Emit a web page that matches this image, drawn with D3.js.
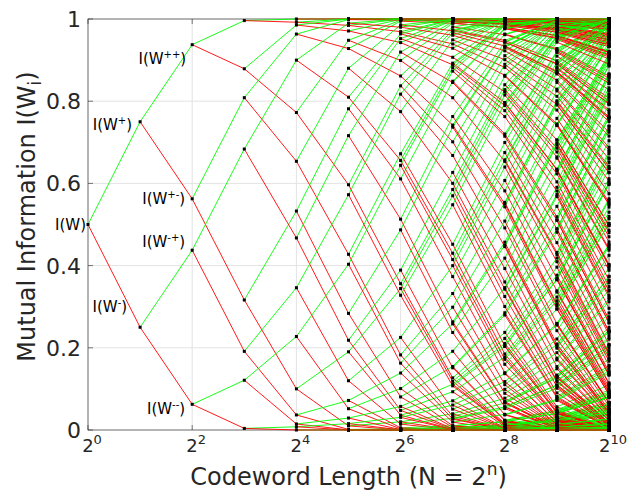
<!DOCTYPE html>
<html>
<head>
<meta charset="utf-8">
<script src="https://cdn.jsdelivr.net/npm/d3@7"></script>
<style>
  body { margin: 0; background: #fff; }
  svg { font-family: "DejaVu Sans", sans-serif; }
</style>
</head>
<body>
<svg id="chart" width="630" height="493"></svg>
<script>
// polarization of a BEC with I(W) = 0.5, levels n = 0..10
const startCapacity = 0.5;
const levelCount = 10;
const xTickExps = [0, 2, 4, 6, 8, 10];
const yTicks = [0, 0.2, 0.4, 0.6, 0.8, 1];
const yTickLabels = ["0", "0.2", "0.4", "0.6", "0.8", "1"];

// node labels: level, index at that level, superscript
const nodeLabels = [
  { n: 0, i: 0, sup: "", dx: -2, dy: 5 },
  { n: 1, i: 0, sup: "+", dx: -8, dy: 8 },
  { n: 1, i: 1, sup: "-", dx: -13, dy: -15 },
  { n: 2, i: 0, sup: "++", dx: -6, dy: 19 },
  { n: 2, i: 1, sup: "+-", dx: -7, dy: 5 },
  { n: 2, i: 2, sup: "-+", dx: -7, dy: -3 },
  { n: 2, i: 3, sup: "--", dx: -7, dy: 10 }
];

// each channel splits into the better W+ (2I - I^2) and worse W- (I^2)
let levels = [[startCapacity]];
for (let n = 1; n <= levelCount; n++) {
  let prev = levels[n - 1];
  let cur = [];
  prev.forEach(v => { cur.push(2 * v - v * v); cur.push(v * v); });
  levels.push(cur);
}

let mLeft = 88, mRight = 609, mTop = 19, mBottom = 430;

let svg = d3.select('#chart');

let x = d3.scaleLinear().domain([0, levelCount]).range([mLeft, mRight]);
let y = d3.scaleLinear().domain([0, 1]).range([mBottom, mTop]);

// grid
svg.append('g')
  .selectAll('line')
  .data(xTickExps)
  .enter().append('line')
  .attr('x1', d => x(d)).attr('x2', d => x(d))
  .attr('y1', mTop).attr('y2', mBottom)
  .attr('stroke', '#e3e3e3').attr('stroke-width', 1);
svg.append('g')
  .selectAll('line')
  .data(yTicks)
  .enter().append('line')
  .attr('x1', mLeft).attr('x2', mRight)
  .attr('y1', d => y(d)).attr('y2', d => y(d))
  .attr('stroke', '#e3e3e3').attr('stroke-width', 1);

// axis box
svg.append('rect')
  .attr('x', mLeft).attr('y', mTop)
  .attr('width', mRight - mLeft).attr('height', mBottom - mTop)
  .attr('fill', 'none').attr('stroke', '#262626').attr('stroke-width', 0.6);

// ticks inward
let ticksG = svg.append('g').attr('stroke', '#262626').attr('stroke-width', 0.6);
xTickExps.forEach(e => {
  ticksG.append('line').attr('x1', x(e)).attr('x2', x(e)).attr('y1', mBottom).attr('y2', mBottom - 5);
  ticksG.append('line').attr('x1', x(e)).attr('x2', x(e)).attr('y1', mTop).attr('y2', mTop + 5);
});
yTicks.forEach(t => {
  ticksG.append('line').attr('x1', mLeft).attr('x2', mLeft + 5).attr('y1', y(t)).attr('y2', y(t));
  ticksG.append('line').attr('x1', mRight).attr('x2', mRight - 5).attr('y1', y(t)).attr('y2', y(t));
});

// segments
let segs = [];
for (let n = 0; n < levelCount; n++) {
  levels[n].forEach((v, i) => {
    segs.push({ n: n, v0: v, v1: levels[n + 1][2 * i], c: '#00ff00' });
    segs.push({ n: n, v0: v, v1: levels[n + 1][2 * i + 1], c: '#ff0000' });
  });
}
svg.append('g')
  .selectAll('line')
  .data(segs)
  .enter().append('line')
  .attr('x1', d => x(d.n)).attr('y1', d => y(d.v0))
  .attr('x2', d => x(d.n + 1)).attr('y2', d => y(d.v1))
  .attr('stroke', d => d.c)
  .attr('stroke-width', 0.9);

// points
let pts = [];
levels.forEach((arr, n) => arr.forEach(v => pts.push({ n: n, v: v })));
svg.append('g')
  .selectAll('rect')
  .data(pts)
  .enter().append('rect')
  .attr('x', d => x(d.n) - 1.5).attr('y', d => y(d.v) - 1.5)
  .attr('width', 3).attr('height', 3)
  .attr('fill', '#000');

// node labels
nodeLabels.forEach(l => {
  let t = svg.append('text')
    .attr('x', x(l.n) + l.dx)
    .attr('y', y(levels[l.n][l.i]) + l.dy)
    .attr('text-anchor', 'end')
    .attr('font-size', 15)
    .attr('fill', '#000');
  t.append('tspan').text('I(W');
  if (l.sup) t.append('tspan').attr('dy', -6).attr('font-size', 10).text(l.sup);
  t.append('tspan').attr('dy', l.sup ? 6 : 0).text(')');
});

// x tick labels
xTickExps.forEach(e => {
  let t = svg.append('text')
    .attr('x', x(e) + 4).attr('y', 452)
    .attr('text-anchor', 'middle')
    .attr('font-size', 18)
    .attr('fill', '#262626');
  t.append('tspan').text('2');
  t.append('tspan').attr('dy', -8).attr('font-size', 13).text(e);
});

// y tick labels
yTicks.forEach((t, k) => {
  svg.append('text')
    .attr('x', mLeft - 7).attr('y', y(t) + 8)
    .attr('text-anchor', 'end')
    .attr('font-size', 22)
    .attr('fill', '#262626')
    .text(yTickLabels[k]);
});

// axis labels
let xl = svg.append('text')
  .attr('x', (mLeft + mRight) / 2).attr('y', 485)
  .attr('text-anchor', 'middle')
  .attr('font-size', 24)
  .attr('fill', '#262626');
xl.append('tspan').text('Codeword Length (N = 2');
xl.append('tspan').attr('dy', -10).attr('font-size', 17).text('n');
xl.append('tspan').attr('dy', 10).text(')');

let yl = svg.append('text')
  .attr('transform', 'translate(35,' + ((mTop + mBottom) / 2 - 8) + ') rotate(-90)')
  .attr('text-anchor', 'middle')
  .attr('font-size', 24)
  .attr('fill', '#262626');
yl.append('tspan').text('Mutual Information I(W');
yl.append('tspan').attr('dy', 6).attr('font-size', 17).text('i');
yl.append('tspan').attr('dy', -6).text(')');
</script>
</body>
</html>
